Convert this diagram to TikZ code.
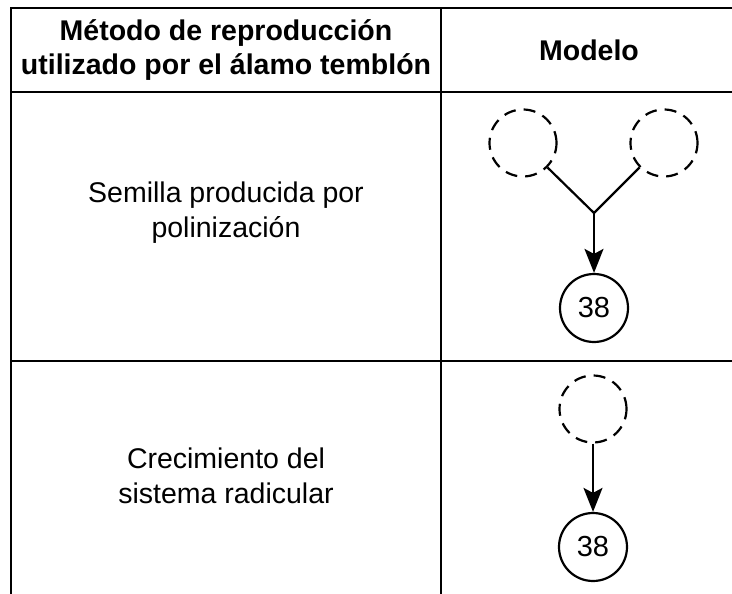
\documentclass[tikz,border=0pt]{standalone}
\usepackage{fontspec}
\setmainfont{Liberation Sans}
\usetikzlibrary{arrows.meta}
\tikzset{
  tbl/.style={line width=2.5pt, line cap=rect},
  hdr/.style={font=\bfseries\fontsize{28.5}{34}\selectfont, align=center, inner sep=0pt},
  txt/.style={font=\fontsize{28.5}{35}\selectfont, align=center, inner sep=0pt},
  dcirc/.style={circle, draw, line width=2.2pt, dash pattern=on 12pt off 8pt, minimum size=67pt, inner sep=0pt},
  ncirc/.style={circle, draw, line width=2.2pt, minimum size=68pt, inner sep=0pt, font=\fontsize{29}{34}\selectfont},
  conn/.style={line width=2.2pt},
  arr/.style={line width=2.2pt, -{Stealth[length=24pt, width=19pt, inset=5pt]}},
}
\begin{document}
\begin{tikzpicture}[x=1pt, y=-1pt]
\useasboundingbox (0,0) rectangle (732,594);
\clip (0,0) rectangle (732,594);
% table
\draw[tbl] (11,8) -- (740,8);
\draw[tbl] (11,92) -- (740,92);
\draw[tbl] (11,361) -- (740,361);
\draw[tbl] (11,8) -- (11,600);
\draw[tbl] (441,8) -- (441,600);
% header
\node[hdr] (h1) at (226,50) {Método de reproducción\\utilizado por el álamo temblón};
\node[hdr] (h2) at (589,50) {Modelo};
% row texts
\node[txt] (t1) at (226,213) {Semilla producida por\\polinización};
\node[txt] (t2) at (226,476) {Crecimiento del\\sistema radicular};
% row 1 model
\node[dcirc] (d1) at (523,143) {};
\node[dcirc] (d2) at (664,143) {};
\coordinate (j) at (594,213);
\node[ncirc] (c1) at (594,308) {38};
\draw[conn] (d1.-45) -- (j);
\draw[conn] (d2.-135) -- (j);
\draw[arr] (j) -- (c1);
% row 2 model
\node[dcirc] (d3) at (593,409) {};
\node[ncirc] (c2) at (593,547) {38};
\draw[arr] (d3) -- (c2);
\end{tikzpicture}
\end{document}
